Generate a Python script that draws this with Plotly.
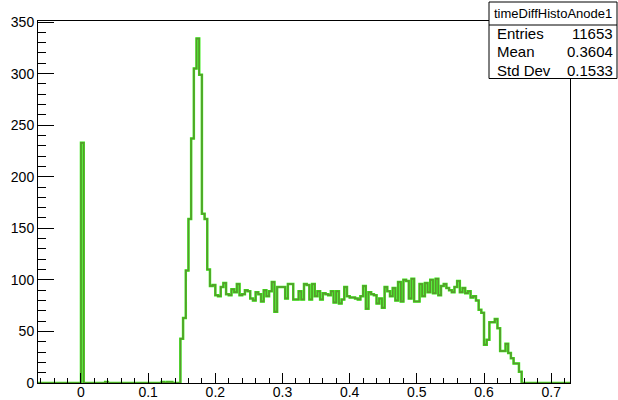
import numpy as np
import plotly.graph_objects as go

# ---- data ----
x_low, x_high, bin_width = -0.064, 0.728, 0.004

spike_edge = [0.0]
spike_counts = [233]

blip_edges = [0.036, 0.120, 0.128, 0.132]
blip_counts = [1, 1, 1, 1]

main_start = 0.148
main_counts = [
    # peak 0.148 - 0.188
    43, 63, 109, 159, 237, 305, 334, 299, 164, 159, 110,
    # plateau 0.192 - 0.292
    94, 95, 85, 84, 93, 97, 86, 85, 91, 88, 96, 85, 86, 90, 89, 82, 80, 88, 86, 79, 90, 84, 89, 98, 69, 93,
    # 0.296 - 0.408
    93, 93, 82, 96, 96, 81, 81, 89, 81, 96, 95, 81, 96, 84, 89, 81, 87, 86, 85, 89, 78, 89, 77, 81, 93, 84, 83, 83, 82,
    # 0.412 - 0.500
    81, 84, 94, 72, 88, 86, 85, 77, 82, 73, 93, 89, 84, 92, 80, 98, 79, 100, 99, 82, 101, 79, 79,
    # 0.504 - 0.596
    96, 84, 97, 88, 100, 87, 101, 85, 94, 96, 92, 90, 88, 93, 99, 88, 92, 87, 89, 83, 84, 80, 71, 68,
    # tail 0.600 - 0.652
    37, 42, 59, 59, 62, 53, 31, 31, 38, 29, 24, 19, 19, 11,
]

stats_title = "timeDiffHistoAnode1"
stats_labels = ["Entries", "Mean", "Std Dev"]
stats_values = ["11653", "0.3604", "0.1533"]

x_tickvals = [0, 0.1, 0.2, 0.3, 0.4, 0.5, 0.6, 0.7]
x_ticktext = ["0", "0.1", "0.2", "0.3", "0.4", "0.5", "0.6", "0.7"]
y_tickvals = [0, 50, 100, 150, 200, 250, 300, 350]

# ---- build histogram ----
nbins = int(round((x_high - x_low) / bin_width))
edges = x_low + bin_width * np.arange(nbins + 1)
counts = np.zeros(nbins)


def idx(e):
    return int(round((e - x_low) / bin_width))


for e, c in zip(spike_edge, spike_counts):
    counts[idx(e)] = c
for e, c in zip(blip_edges, blip_counts):
    counts[idx(e)] = c
i0 = idx(main_start)
counts[i0:i0 + len(main_counts)] = main_counts

xs = list(edges)
ys = list(counts) + [counts[-1]]

W, H = 618, 400
L, R, T, B = 38, 570, 21, 383
pw, ph = R - L, B - T


def px(xp):
    return (xp - L) / pw


def py(yp):
    return (B - yp) / ph


fig = go.Figure()
fig.add_trace(go.Scatter(x=xs, y=ys, mode="lines", line=dict(shape="hv", color="#33ee11", width=2.5),
                         hoverinfo="skip", showlegend=False))
fig.add_trace(go.Scatter(x=xs, y=ys, mode="lines", line=dict(shape="hv", color="#5a9630", width=1.5),
                         hoverinfo="skip", showlegend=False))

font = dict(family="Liberation Sans, Arial, sans-serif", size=14, color="black")

fig.update_layout(
    width=W, height=H,
    margin=dict(l=L, r=W - R, t=T, b=H - B, pad=0),
    paper_bgcolor="white", plot_bgcolor="white",
    font=font,
    xaxis=dict(range=[x_low, x_high], showgrid=False, zeroline=False,
               showline=True, linecolor="black", linewidth=1, mirror=True,
               ticks="inside", ticklen=10, tickcolor="black", tickwidth=1,
               tickvals=x_tickvals, ticktext=x_ticktext, tickfont=font,
               ticklabelstandoff=-4,
               minor=dict(ticks="inside", ticklen=5, tickcolor="black", dtick=0.02, tick0=0, showgrid=False),
               automargin=False),
    yaxis=dict(range=[0, 351], showgrid=False, zeroline=False,
               showline=True, linecolor="black", linewidth=1, mirror=True,
               ticks="inside", ticklen=16, tickcolor="black", tickwidth=1,
               tickvals=y_tickvals, tickfont=font,
               minor=dict(ticks="inside", ticklen=8, tickcolor="black", dtick=10, tick0=0, showgrid=False),
               automargin=False),
)

# stats box
bx0, bx1, by0, by1, bmid = 489, 617, 78.5, 2, 25
fig.add_shape(type="rect", xref="paper", yref="paper", x0=px(bx0), x1=px(bx1), y0=py(by0), y1=py(by1),
              line=dict(color="black", width=1), fillcolor="white", layer="above")
fig.add_shape(type="line", xref="paper", yref="paper", x0=px(bx0), x1=px(bx1), y0=py(bmid), y1=py(bmid),
              line=dict(color="black", width=1), layer="above")
fig.add_annotation(xref="paper", yref="paper", x=px((bx0 + bx1) / 2), y=py(13.5), text=stats_title,
                   showarrow=False, xanchor="center", yanchor="middle",
                   font=dict(family="Liberation Sans, Arial, sans-serif", size=13, color="black"))
row_y = [33, 51.5, 70]
for lab, val, ry in zip(stats_labels, stats_values, row_y):
    fig.add_annotation(xref="paper", yref="paper", x=px(495), y=py(ry), text=lab, showarrow=False,
                       xanchor="left", yanchor="middle",
                       font=dict(family="Liberation Sans, Arial, sans-serif", size=15, color="black"))
    fig.add_annotation(xref="paper", yref="paper", x=px(615), y=py(ry), text=val, showarrow=False,
                       xanchor="right", yanchor="middle",
                       font=dict(family="Liberation Sans, Arial, sans-serif", size=15, color="black"))

fig.write_html("out.html", config={"displayModeBar": False},
               post_script="document.body.style.margin='0';document.body.style.overflow='hidden';")
